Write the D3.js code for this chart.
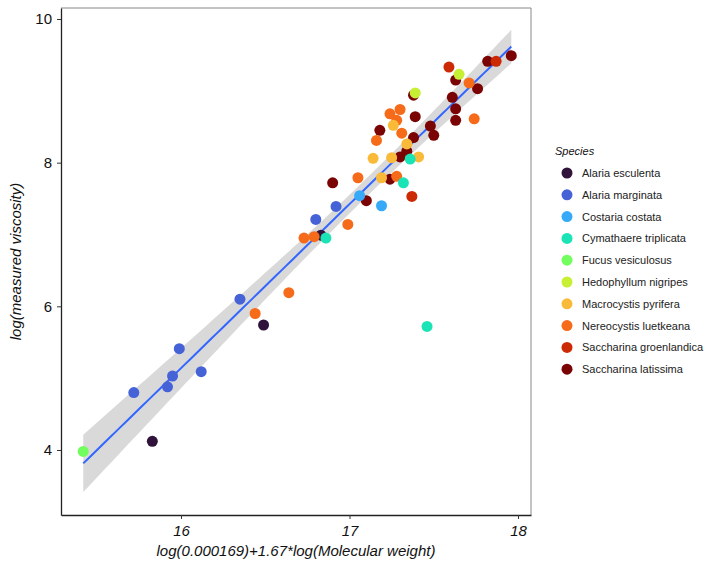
<!DOCTYPE html>
<meta charset="utf-8">
<style>
body { margin: 0; background: #fff; }
text { font-family: "Liberation Sans", Arial, sans-serif; }
</style>
<body>
<script src="https://cdn.jsdelivr.net/npm/d3@7"></script>
<script>

var species = ["Alaria esculenta", "Alaria marginata", "Costaria costata",
  "Cymathaere triplicata", "Fucus vesiculosus", "Hedophyllum nigripes",
  "Macrocystis pyrifera", "Nereocystis luetkeana", "Saccharina groenlandica",
  "Saccharina latissima"];
var colors = ["#30123B", "#4662D7", "#36AAF9", "#1AE4B6", "#72FE5E",
  "#C7EF34", "#FABA39", "#F66B19", "#CB2A04", "#7A0403"];

// [x, y] per species
var alariaEsculenta = [[15.83, 4.12], [16.49, 5.74], [16.83, 6.99]];
var alariaMarginata = [[15.72, 4.80], [15.92, 4.88], [15.95, 5.03], [15.99, 5.41],
  [16.12, 5.09], [16.35, 6.10], [16.80, 7.21], [16.92, 7.39]];
var costariaCostata = [[17.06, 7.54], [17.19, 7.40]];
var cymathaere = [[16.86, 6.95], [17.32, 7.72], [17.36, 8.05], [17.46, 5.72]];
var fucus = [[15.42, 3.98]];
var hedophyllum = [[17.39, 8.97], [17.65, 9.23]];
var macrocystis = [[17.26, 8.52], [17.34, 8.26], [17.14, 8.06], [17.25, 8.07],
  [17.41, 8.08], [17.19, 7.79]];
var nereocystis = [[16.44, 5.90], [16.64, 6.19], [16.73, 6.95], [16.79, 6.97],
  [16.99, 7.14], [17.05, 7.79], [17.28, 7.81], [17.16, 8.31], [17.31, 8.41],
  [17.24, 8.68], [17.30, 8.74], [17.28, 8.59], [17.71, 9.11], [17.74, 8.61]];
var saccharinaGroen = [[17.37, 7.53], [17.59, 9.33], [17.87, 9.41]];
var saccharinaLat = [[16.90, 7.72], [17.10, 7.47], [17.24, 7.77], [17.30, 8.08],
  [17.34, 8.16], [17.38, 8.35], [17.18, 8.45], [17.39, 8.64], [17.38, 8.94],
  [17.48, 8.51], [17.50, 8.38], [17.61, 8.91], [17.63, 8.75], [17.63, 8.59],
  [17.63, 9.15], [17.76, 9.03], [17.82, 9.41], [17.96, 9.49]];

var groups = [alariaEsculenta, alariaMarginata, costariaCostata, cymathaere, fucus,
  hedophyllum, macrocystis, nereocystis, saccharinaGroen, saccharinaLat];

// drawing order (which species sit on top where points overlap)
var drawOrder = [0, 9, 7, 8, 1, 2, 6, 3, 4, 5];

var xTicks = [16, 17, 18];
var yTicks = [4, 6, 8, 10];

var points = [];
drawOrder.forEach(function(i) {
  groups[i].forEach(function(p) { points.push({x: p[0], y: p[1], s: i}); });
});

var W = 723, H = 563;
var panel = {left: 61, right: 531, top: 8, bottom: 515};

var x = d3.scaleLinear().domain([15.288, 18.077]).range([panel.left, panel.right]);
var y = d3.scaleLinear().domain([3.095, 10.153]).range([panel.bottom, panel.top]);

var svg = d3.select("body").append("svg")
    .attr("width", W)
    .attr("height", H);

// linear fit with 95% confidence band (like geom_smooth(method = "lm"))
var n = points.length;
var mx = d3.mean(points, function(d) { return d.x; });
var my = d3.mean(points, function(d) { return d.y; });
var sxx = d3.sum(points, function(d) { return (d.x - mx) * (d.x - mx); });
var sxy = d3.sum(points, function(d) { return (d.x - mx) * (d.y - my); });
var b = sxy / sxx, a = my - b * mx;
var sse = d3.sum(points, function(d) { var r = d.y - (a + b * d.x); return r * r; });
var se = Math.sqrt(sse / (n - 2));
var tq = 2.0;
var xr = d3.extent(points, function(d) { return d.x; });
var band = d3.range(0, 81).map(function(i) {
  var xv = xr[0] + (xr[1] - xr[0]) * i / 80;
  var fit = a + b * xv;
  var w = tq * se * Math.sqrt(1 / n + (xv - mx) * (xv - mx) / sxx);
  return {x: xv, fit: fit, lo: fit - w, hi: fit + w};
});

svg.append("path")
    .datum(band)
    .attr("fill", "#d9d9d9")
    .attr("d", d3.area()
      .x(function(d) { return x(d.x); })
      .y0(function(d) { return y(d.lo); })
      .y1(function(d) { return y(d.hi); }));

svg.append("path")
    .datum(band)
    .attr("fill", "none")
    .attr("stroke", "#3366FF")
    .attr("stroke-width", 2)
    .attr("d", d3.line()
      .x(function(d) { return x(d.x); })
      .y(function(d) { return y(d.fit); }));

svg.selectAll("circle.pt")
    .data(points)
  .enter().append("circle")
    .attr("class", "pt")
    .attr("cx", function(d) { return x(d.x); })
    .attr("cy", function(d) { return y(d.y); })
    .attr("r", 5.5)
    .attr("fill", function(d) { return colors[d.s]; });

// panel border, top and right lighter
svg.append("line")
    .attr("x1", panel.left).attr("x2", panel.right)
    .attr("y1", panel.top).attr("y2", panel.top)
    .attr("stroke", "#888").attr("stroke-width", 1);
svg.append("line")
    .attr("x1", panel.right).attr("x2", panel.right)
    .attr("y1", panel.top).attr("y2", panel.bottom)
    .attr("stroke", "#888").attr("stroke-width", 1);

// axes
var xAxis = svg.append("g")
    .attr("transform", "translate(0," + panel.bottom + ")")
    .call(d3.axisBottom(x).tickValues(xTicks).tickSize(4).tickSizeOuter(0).tickFormat(d3.format("d")));
var yAxis = svg.append("g")
    .attr("transform", "translate(" + panel.left + ",0)")
    .call(d3.axisLeft(y).tickValues(yTicks).tickSize(4).tickSizeOuter(0).tickFormat(d3.format("d")));

[xAxis, yAxis].forEach(function(g) {
  g.select(".domain").attr("stroke", "#222").attr("stroke-width", 1.3);
  g.selectAll(".tick line").attr("stroke", "#333");
  g.selectAll(".tick text")
      .attr("font-family", "'Liberation Sans', Arial, sans-serif")
      .attr("font-size", 15)
      .attr("fill", "#111");
});
xAxis.selectAll(".tick text").attr("font-style", "italic").attr("dy", "0.95em");
yAxis.selectAll(".tick text").attr("dx", "-2");

svg.append("text")
    .attr("x", (panel.left + panel.right) / 2)
    .attr("y", 556)
    .attr("text-anchor", "middle")
    .attr("font-size", 15)
    .attr("font-style", "italic")
    .attr("fill", "#111")
    .text("log(0.000169)+1.67*log(Molecular weight)");

svg.append("text")
    .attr("transform", "translate(21," + ((panel.top + panel.bottom) / 2) + ") rotate(-90)")
    .attr("text-anchor", "middle")
    .attr("font-size", 15)
    .attr("font-style", "italic")
    .attr("fill", "#111")
    .text("log(measured viscosity)");

// legend
var legend = svg.append("g").attr("transform", "translate(555,0)");
legend.append("text")
    .attr("x", 0)
    .attr("y", 155)
    .attr("font-size", 11)
    .attr("font-style", "italic")
    .attr("fill", "#111")
    .text("Species");

var items = legend.selectAll("g.item")
    .data(species)
  .enter().append("g")
    .attr("class", "item")
    .attr("transform", function(d, i) { return "translate(0," + (173 + i * 21.8) + ")"; });
items.append("circle")
    .attr("cx", 12)
    .attr("cy", 0)
    .attr("r", 5.5)
    .attr("fill", function(d, i) { return colors[i]; });
items.append("text")
    .attr("x", 27)
    .attr("y", 4)
    .attr("font-size", 11)
    .attr("fill", "#222")
    .text(function(d) { return d; });

</script>
</body>
